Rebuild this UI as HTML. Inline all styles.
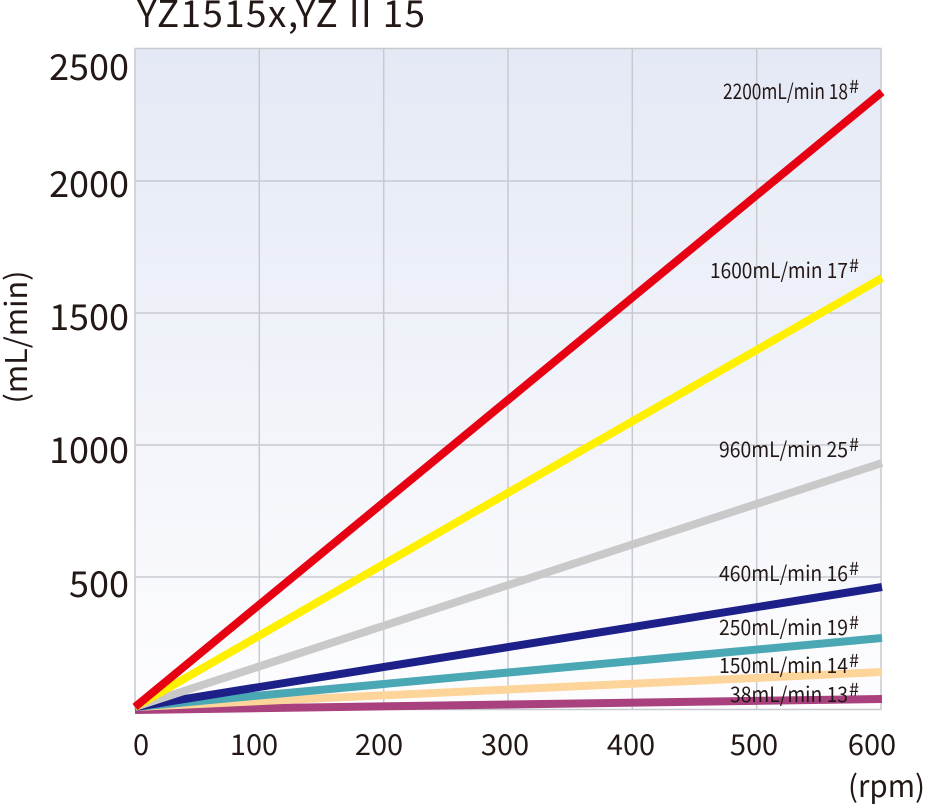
<!DOCTYPE html>
<html><head><meta charset="utf-8"><style>
html,body{margin:0;padding:0;background:#fff;}
svg{display:block;font-family:"Noto Sans CJK SC","Liberation Sans",sans-serif;}
</style></head><body>
<svg width="927" height="806" viewBox="0 0 927 806" xmlns="http://www.w3.org/2000/svg">
<defs>
<linearGradient id="bg" x1="0" y1="0" x2="0" y2="1">
<stop offset="0" stop-color="#e4e9f5"/>
<stop offset="1" stop-color="#fdfdfe"/>
</linearGradient>
</defs>
<text x="137" y="27" font-size="37" fill="#231815" textLength="288" lengthAdjust="spacing">YZ1515x,YZ II 15</text>
<rect x="135" y="48.5" width="746" height="661" fill="url(#bg)" stroke="#c8cad0" stroke-width="1.5"/>
<g stroke="#c8cad0" stroke-width="1.5">
<line x1="259.3" y1="48" x2="259.3" y2="710"/>
<line x1="383.7" y1="48" x2="383.7" y2="710"/>
<line x1="508" y1="48" x2="508" y2="710"/>
<line x1="632.3" y1="48" x2="632.3" y2="710"/>
<line x1="756.7" y1="48" x2="756.7" y2="710"/>
<line x1="135" y1="181" x2="881" y2="181"/>
<line x1="135" y1="313" x2="881" y2="313"/>
<line x1="135" y1="445" x2="881" y2="445"/>
<line x1="135" y1="577" x2="881" y2="577"/>
</g>
<g stroke-width="8" stroke-linecap="butt" fill="none">
<line x1="135" y1="710" x2="882" y2="699" stroke="#a8417e"/>
<line x1="135" y1="707" x2="882" y2="672" stroke="#fdd49a"/>
<line x1="135" y1="707" x2="882" y2="638" stroke="#4aa8b4"/>
<line x1="135" y1="707" x2="882" y2="587" stroke="#1d2088"/>
<line x1="135" y1="707" x2="882" y2="463" stroke="#c9c9c9"/>
<line x1="135" y1="707" x2="882" y2="278" stroke="#fff000"/>
<line x1="135" y1="707" x2="882" y2="92" stroke="#e60012"/>
</g>
<g font-size="21" fill="#231815">
<text x="723" y="99" textLength="125" lengthAdjust="spacingAndGlyphs">2200mL/min 18</text>
<text x="849" y="93" font-size="18">#</text>
<text x="710" y="278" textLength="138" lengthAdjust="spacingAndGlyphs">1600mL/min 17</text>
<text x="849" y="272" font-size="18">#</text>
<text x="719" y="457" textLength="129" lengthAdjust="spacingAndGlyphs">960mL/min 25</text>
<text x="849" y="451" font-size="18">#</text>
<text x="719" y="581" textLength="129" lengthAdjust="spacingAndGlyphs">460mL/min 16</text>
<text x="849" y="575" font-size="18">#</text>
<text x="719" y="635" textLength="129" lengthAdjust="spacingAndGlyphs">250mL/min 19</text>
<text x="849" y="629" font-size="18">#</text>
<text x="719" y="673" textLength="129" lengthAdjust="spacingAndGlyphs">150mL/min 14</text>
<text x="849" y="667" font-size="18">#</text>
<text x="730" y="702" textLength="118" lengthAdjust="spacingAndGlyphs">38mL/min 13</text>
<text x="849" y="696" font-size="18">#</text>
</g>
<g font-size="36" fill="#231815" text-anchor="end">
<text x="129" y="80">2500</text>
<text x="129" y="197">2000</text>
<text x="129" y="330">1500</text>
<text x="129" y="463">1000</text>
<text x="129" y="597">500</text>
</g>
<g font-size="29" fill="#231815" text-anchor="middle">
<text x="141" y="755">0</text>
<text x="254" y="755">100</text>
<text x="379" y="755">200</text>
<text x="505" y="755">300</text>
<text x="631" y="755">400</text>
<text x="754" y="755">500</text>
<text x="872" y="755">600</text>
</g>
<text x="848" y="797" font-size="30" fill="#231815" textLength="77" lengthAdjust="spacingAndGlyphs">(rpm)</text>
<text transform="translate(27,337) rotate(-90)" text-anchor="middle" font-size="30" fill="#231815" textLength="133" lengthAdjust="spacingAndGlyphs">(mL/min)</text>
</svg>
</body></html>
